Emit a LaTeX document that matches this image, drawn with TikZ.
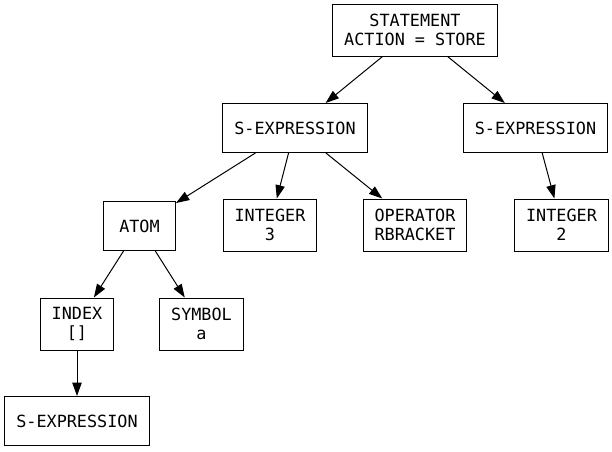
\documentclass[tikz,border=0pt]{standalone}
\usepackage{fontspec}
\setmonofont{DejaVu Sans Mono}
\usetikzlibrary{arrows.meta}
\tikzset{
  box/.style={draw,rectangle,font=\ttfamily\fontsize{12.6pt}{14.25pt}\selectfont,
    align=center,inner xsep=8.6pt,inner ysep=0pt,minimum width=54pt,minimum height=36.75pt},
  twoline/.style={minimum height=39pt},
  edge/.style={-{Triangle[length=10pt,width=7pt]}}
}
\begin{document}
\begin{tikzpicture}[x=0.75pt,y=-0.75pt,line width=0.75pt]
            \useasboundingbox (0,0) rectangle (612,451);
            \node[box,twoline] (stmt) at (415,30) {STATEMENT\\ACTION = STORE};
            \node[box] (sexpA) at (295,128) {S-EXPRESSION};
            \node[box] (sexpB) at (535.5,128) {S-EXPRESSION};
            \node[box] (atom) at (139.5,226) {ATOM};
            \node[box,twoline] (intA) at (270,225) {INTEGER\\3};
            \node[box,twoline] (oper) at (415,225) {OPERATOR\\RBRACKET};
            \node[box,twoline] (intB) at (561.5,225) {INTEGER\\2};
            \node[box,twoline] (index) at (77,324) {INDEX\\{[]}};
            \node[box,twoline] (sym) at (201.5,324) {SYMBOL\\a};
            \node[box] (sexpC) at (77,421) {S-EXPRESSION};
            \draw [edge] (stmt) -- (sexpA);
            \draw [edge] (stmt) -- (sexpB);
            \draw [edge] (sexpA) -- (atom);
            \draw [edge] (sexpA) -- (intA);
            \draw [edge] (sexpA) -- (oper);
            \draw [edge] (sexpB) -- (intB);
            \draw [edge] (atom) -- (index);
            \draw [edge] (atom) -- (sym);
            \draw [edge] (index) -- (sexpC);
        \end{tikzpicture}
\end{document}
